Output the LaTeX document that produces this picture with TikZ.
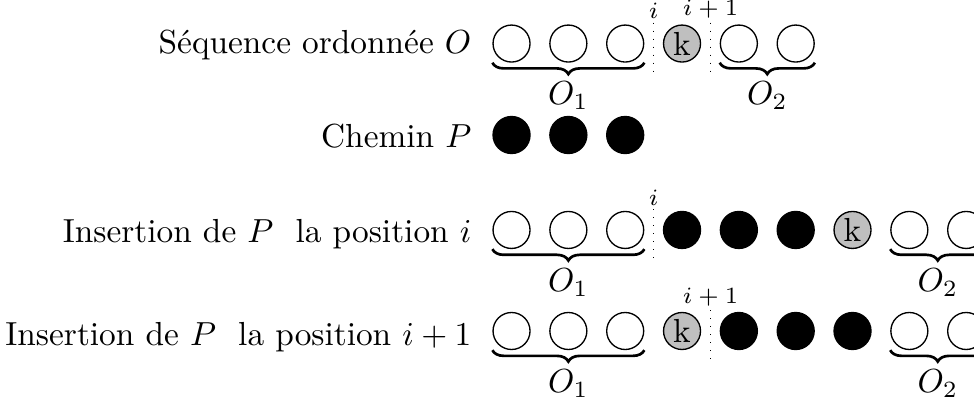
\documentclass[tikz,border=0pt]{standalone}
\usepackage{tikz}
\usetikzlibrary{positioning,calc,decorations.pathreplacing}

\begin{document}
\begin{tikzpicture}[
  node distance=1.95mm,
  vertex/.style={draw, circle, minimum size=3.9mm, inner sep=0pt},
  pathvertex/.style={vertex, fill=black},
  kvertex/.style={vertex, fill=gray!50},
  rowlabel/.style={anchor=base east, inner sep=0pt},
  cut/.style={dotted},
  cutlabel/.style={font=\scriptsize, inner sep=1pt, above},
  brace/.style={decorate, decoration={brace, mirror, amplitude=1.2mm}, line width=0.8pt},
  part/.style={below=2pt}
]
\useasboundingbox (0,0) rectangle (102.67mm,-42.16mm);

% sequence O
\node[rowlabel] (lseq) at (49.75mm,-5.59mm) {Séquence ordonnée $O$};
\node[vertex] (a1) at (53.92mm,-4.59mm) {};
\node[vertex, right=of a1] (a2) {}; \node[vertex, right=of a2] (a3) {};
\node[kvertex, right=of a3] (ak) {k};
\node[vertex, right=of ak] (a4) {}; \node[vertex, right=of a4] (a5) {};
\coordinate (ta1) at ($(a3.east)!0.5!(ak.west)+(0,2.2mm)$);
\coordinate (ba1) at ($(a3.east)!0.5!(ak.west)+(0,-3.4mm)$);
\coordinate (ta2) at ($(ak.east)!0.5!(a4.west)+(0,2.2mm)$);
\coordinate (ba2) at ($(ak.east)!0.5!(a4.west)+(0,-3.4mm)$);
\draw[cut] (ta1) -- (ba1) node[cutlabel, pos=0] {$i$};
\draw[cut] (ta2) -- (ba2) node[cutlabel, pos=0] {$i+1$};
\draw[brace] (a1.west |- a1.south) -- (a3.east |- a3.south) node[midway, part] {$O_1$};
\draw[brace] (a4.west |- a4.south) -- (a5.east |- a5.south) node[midway, part] {$O_2$};

% path P
\node[rowlabel] (lpath) at (49.75mm,-15.5mm) {Chemin $P$};
\node[pathvertex] (b1) at (53.92mm,-14.23mm) {};
\node[pathvertex, right=of b1] (b2) {}; \node[pathvertex, right=of b2] (b3) {};

% insertion at i
\node[rowlabel] (lins1) at (49.75mm,-25.61mm) {Insertion de $P$ \ la position $i$};
\node[vertex] (c1) at (53.92mm,-24.24mm) {};
\node[vertex, right=of c1] (c2) {}; \node[vertex, right=of c2] (c3) {};
\node[pathvertex, right=of c3] (cp1) {}; \node[pathvertex, right=of cp1] (cp2) {};
\node[pathvertex, right=of cp2] (cp3) {};
\node[kvertex, right=of cp3] (ck) {k};
\node[vertex, right=of ck] (c4) {}; \node[vertex, right=of c4] (c5) {};
\coordinate (tc) at ($(c3.east)!0.5!(cp1.west)+(0,2.2mm)$);
\coordinate (bc) at ($(c3.east)!0.5!(cp1.west)+(0,-3.4mm)$);
\draw[cut] (tc) -- (bc) node[cutlabel, pos=0] {$i$};
\draw[brace] (c1.west |- c1.south) -- (c3.east |- c3.south) node[midway, part] {$O_1$};
\draw[brace] (c4.west |- c4.south) -- (c5.east |- c5.south) node[midway, part] {$O_2$};

% insertion at i+1
\node[rowlabel] (lins2) at (49.75mm,-36.37mm) {Insertion de $P$ \ la position $i+1$};
\node[vertex] (d1) at (53.92mm,-34.89mm) {};
\node[vertex, right=of d1] (d2) {}; \node[vertex, right=of d2] (d3) {};
\node[kvertex, right=of d3] (dk) {k};
\node[pathvertex, right=of dk] (dp1) {}; \node[pathvertex, right=of dp1] (dp2) {};
\node[pathvertex, right=of dp2] (dp3) {};
\node[vertex, right=of dp3] (d4) {}; \node[vertex, right=of d4] (d5) {};
\coordinate (td) at ($(dk.east)!0.5!(dp1.west)+(0,2.2mm)$);
\coordinate (bd) at ($(dk.east)!0.5!(dp1.west)+(0,-3.4mm)$);
\draw[cut] (td) -- (bd) node[cutlabel, pos=0] {$i+1$};
\draw[brace] (d1.west |- d1.south) -- (d3.east |- d3.south) node[midway, part] {$O_1$};
\draw[brace] (d4.west |- d4.south) -- (d5.east |- d5.south) node[midway, part] {$O_2$};
\end{tikzpicture}
\end{document}
